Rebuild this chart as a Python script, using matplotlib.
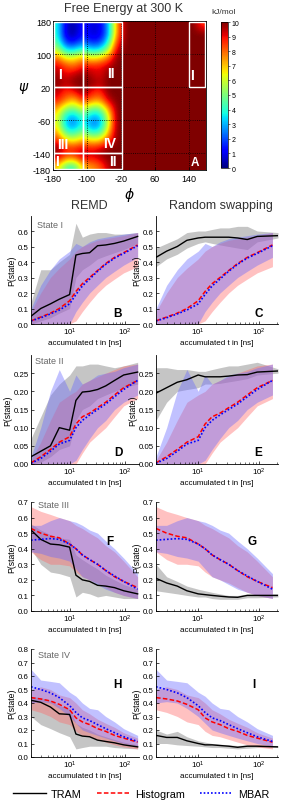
import numpy as np
import matplotlib
matplotlib.use("Agg")
import matplotlib.pyplot as plt
from matplotlib.patches import Rectangle
from matplotlib.lines import Line2D
from matplotlib.ticker import FixedLocator, FormatStrFormatter, LogLocator, NullFormatter

plt.rcParams['font.family'] = ['Liberation Sans', 'DejaVu Sans']
plt.rcParams['mathtext.fontset'] = 'dejavusans'
plt.rcParams['axes.unicode_minus'] = False

##########################################################################################
## data ########
##########################################################################################
# free energy [kJ/mol] on 20 deg bins, rows psi 170 -> -170, cols phi -170 -> -10
fe_left = [
    [4.0, 0.8, 0.3, 1.6, 0.8, 0.9, 2.8, 7.5, 10],
    [4.0, 0.6, 0.2, 1.5, 0.7, 0.8, 2.6, 7.5, 10],
    [4.5, 1.5, 1.2, 2.3, 1.5, 1.6, 3.6, 8.5, 10],
    [6.0, 3.5, 3.4, 4.5, 3.5, 3.6, 5.5, 9.5, 10],
    [8.0, 6.5, 6.5, 7.5, 6.5, 7.0, 8.0, 10, 10],
    [9.3, 8.5, 8.0, 9.0, 9.0, 9.0, 9.5, 10, 10],
    [9.7, 9.0, 9.5, 10, 9.5, 9.0, 10, 10, 10],
    [10, 9.5, 10, 10, 10, 9.5, 10, 10, 10],
    [9.5, 8.5, 9.0, 10, 9.0, 8.5, 10, 10, 10],
    [9.0, 8.0, 7.0, 9.0, 8.0, 7.5, 9.5, 10, 10],
    [7.5, 5.5, 5.0, 6.5, 5.0, 5.0, 7.5, 10, 10],
    [6.5, 3.5, 2.8, 4.5, 3.0, 3.0, 6.0, 10, 10],
    [6.5, 3.0, 2.4, 4.0, 2.4, 2.6, 6.0, 10, 10],
    [7.5, 4.5, 4.0, 5.5, 4.0, 4.2, 7.0, 10, 10],
    [9.0, 7.0, 6.5, 7.5, 7.0, 7.0, 8.5, 10, 10],
    [10, 9.0, 9.0, 9.5, 9.0, 9.5, 10, 10, 10],
    [9.5, 8.0, 8.0, 9.5, 9.0, 9.5, 10, 10, 10],
    [7.0, 4.5, 4.0, 7.0, 7.5, 8.0, 9.5, 10, 10],
]
fe_cap = 10.0
fe_spot = 8.5          # small spot at phi 170, psi 170

phi_ticks = [-180, -100, -20, 60, 140]
psi_ticks = [180, 100, 20, -60, -140, -180]
cbar_ticks = [0, 1, 2, 3, 4, 5, 6, 7, 8, 9, 10]

# state boxes (phi0, psi0, phi1, psi1)
boxes = [(-177, 21, -110, 178), (-110, 21, -18, 178), (-177, -140, -110, 21),
         (-110, -140, -18, 21), (-177, -178, -110, -140), (-110, -178, -18, -140),
         (139, 21, 178, 178)]
box_labels = ['I', 'II', 'I', 'III', 'IV', 'I', 'II']
box_label_pos = [(-163, 52), (-43, 54), (147, 50), (-157, -117), (-46, -115), (-171, -158), (-40, -158)]

# accumulated simulation time [ns]
t_est = [2, 3, 4.5, 6.5, 10, 13, 17, 23, 32, 45, 65, 95, 170]
t_tram_remd = [2, 3, 4.5, 6.5, 10, 13, 17, 23, 32, 45, 65, 95, 170]
t_tram_rs = [2, 3, 4.5, 6.5, 10, 13, 17, 23, 32, 45, 65, 95, 210]

# state I
hist_I = [0.02, 0.045, 0.07, 0.10, 0.15, 0.21, 0.26, 0.30, 0.345, 0.39, 0.43, 0.46, 0.51]
hist_I_lo = [0, 0, 0, 0, 0, 0.02, 0.08, 0.14, 0.20, 0.25, 0.29, 0.33, 0.37]
hist_I_hi = [0.08, 0.20, 0.30, 0.36, 0.42, 0.47, 0.50, 0.52, 0.54, 0.55, 0.56, 0.57, 0.59]
mbar_I = [0.02, 0.04, 0.065, 0.09, 0.13, 0.19, 0.245, 0.29, 0.34, 0.385, 0.425, 0.455, 0.505]
mbar_I_lo = [0, 0, 0, 0, 0, 0.08, 0.14, 0.20, 0.25, 0.30, 0.34, 0.38, 0.43]
mbar_I_hi = [0.10, 0.25, 0.35, 0.42, 0.47, 0.52, 0.50, 0.53, 0.55, 0.56, 0.57, 0.58, 0.59]
tram_remd_I = [0.05, 0.10, 0.13, 0.16, 0.19, 0.445, 0.455, 0.46, 0.505, 0.51, 0.52, 0.535, 0.565]
tram_remd_I_lo = [0.0, 0.02, 0.04, 0.07, 0.10, 0.30, 0.35, 0.38, 0.42, 0.44, 0.46, 0.48, 0.52]
tram_remd_I_hi = [0.14, 0.35, 0.35, 0.40, 0.45, 0.65, 0.56, 0.58, 0.59, 0.59, 0.58, 0.58, 0.59]
tram_rs_I = [0.43, 0.47, 0.50, 0.54, 0.555, 0.56, 0.56, 0.56, 0.56, 0.555, 0.545, 0.565, 0.57]
tram_rs_I_lo = [0.37, 0.42, 0.45, 0.49, 0.52, 0.53, 0.52, 0.51, 0.50, 0.49, 0.48, 0.53, 0.555]
tram_rs_I_hi = [0.49, 0.52, 0.55, 0.59, 0.60, 0.60, 0.61, 0.62, 0.62, 0.63, 0.63, 0.60, 0.59]

# state II
hist_II = [0.003, 0.02, 0.04, 0.06, 0.075, 0.11, 0.13, 0.14, 0.155, 0.17, 0.19, 0.21, 0.23]
hist_II_lo = [0, 0, 0, 0, 0, 0, 0.03, 0.06, 0.08, 0.10, 0.13, 0.16, 0.18]
hist_II_hi = [0.01, 0.06, 0.12, 0.17, 0.19, 0.20, 0.22, 0.23, 0.24, 0.25, 0.26, 0.27, 0.275]
mbar_II = [0.002, 0.015, 0.035, 0.055, 0.065, 0.10, 0.12, 0.135, 0.15, 0.165, 0.185, 0.205, 0.23]
mbar_II_lo = [0, 0, 0, 0, 0, 0.01, 0.04, 0.07, 0.10, 0.12, 0.15, 0.17, 0.19]
mbar_II_hi = [0.02, 0.10, 0.20, 0.26, 0.20, 0.245, 0.22, 0.23, 0.245, 0.25, 0.255, 0.265, 0.275]
tram_remd_II = [0.02, 0.035, 0.05, 0.10, 0.093, 0.175, 0.198, 0.20, 0.205, 0.215, 0.23, 0.245, 0.253]
tram_remd_II_lo = [0.0, 0.005, 0.02, 0.04, 0.05, 0.12, 0.15, 0.16, 0.18, 0.19, 0.20, 0.21, 0.22]
tram_remd_II_hi = [0.07, 0.13, 0.19, 0.22, 0.245, 0.27, 0.27, 0.275, 0.275, 0.27, 0.265, 0.27, 0.28]
tram_rs_II = [0.195, 0.21, 0.225, 0.232, 0.245, 0.24, 0.24, 0.24, 0.242, 0.245, 0.246, 0.253, 0.256]
tram_rs_II_lo = [0.12, 0.17, 0.20, 0.205, 0.21, 0.22, 0.22, 0.222, 0.226, 0.23, 0.235, 0.245, 0.25]
tram_rs_II_hi = [0.265, 0.265, 0.26, 0.26, 0.255, 0.255, 0.26, 0.265, 0.27, 0.27, 0.275, 0.28, 0.262]

# state III
hist_III = [0.53, 0.50, 0.48, 0.47, 0.43, 0.40, 0.36, 0.33, 0.30, 0.26, 0.22, 0.19, 0.15]
hist_III_lo = [0.38, 0.33, 0.30, 0.30, 0.29, 0.25, 0.22, 0.20, 0.18, 0.15, 0.12, 0.10, 0.08]
hist_III_hi = [0.67, 0.64, 0.62, 0.60, 0.58, 0.55, 0.53, 0.50, 0.47, 0.42, 0.38, 0.32, 0.22]
mbar_III = [0.455, 0.46, 0.465, 0.46, 0.43, 0.40, 0.36, 0.33, 0.30, 0.26, 0.225, 0.19, 0.14]
mbar_III_lo = [0.38, 0.37, 0.35, 0.34, 0.32, 0.27, 0.22, 0.20, 0.17, 0.14, 0.12, 0.10, 0.08]
mbar_III_hi = [0.55, 0.55, 0.58, 0.60, 0.58, 0.57, 0.55, 0.52, 0.50, 0.45, 0.40, 0.34, 0.24]
tram_remd_III = [0.52, 0.46, 0.43, 0.425, 0.41, 0.23, 0.20, 0.19, 0.165, 0.16, 0.15, 0.13, 0.11]
tram_remd_III_lo = [0.40, 0.30, 0.25, 0.24, 0.22, 0.09, 0.12, 0.11, 0.09, 0.10, 0.09, 0.08, 0.08]
tram_remd_III_hi = [0.56, 0.52, 0.49, 0.47, 0.46, 0.36, 0.33, 0.30, 0.27, 0.23, 0.20, 0.17, 0.14]
tram_rs_III = [0.21, 0.18, 0.16, 0.13, 0.11, 0.105, 0.10, 0.095, 0.09, 0.088, 0.10, 0.10, 0.10]
tram_rs_III_lo = [0.13, 0.12, 0.11, 0.10, 0.09, 0.09, 0.08, 0.075, 0.075, 0.075, 0.085, 0.085, 0.09]
tram_rs_III_hi = [0.30, 0.22, 0.19, 0.16, 0.14, 0.13, 0.12, 0.11, 0.10, 0.10, 0.11, 0.11, 0.11]

# state IV
hist_IV = [0.44, 0.43, 0.415, 0.39, 0.35, 0.29, 0.26, 0.24, 0.21, 0.19, 0.16, 0.14, 0.11]
hist_IV_lo = [0.35, 0.33, 0.30, 0.26, 0.24, 0.19, 0.16, 0.15, 0.13, 0.11, 0.09, 0.075, 0.06]
hist_IV_hi = [0.50, 0.52, 0.50, 0.46, 0.44, 0.40, 0.35, 0.32, 0.28, 0.25, 0.22, 0.18, 0.14]
mbar_IV = [0.52, 0.50, 0.475, 0.44, 0.38, 0.33, 0.29, 0.27, 0.24, 0.21, 0.18, 0.15, 0.115]
mbar_IV_lo = [0.40, 0.41, 0.40, 0.36, 0.30, 0.25, 0.20, 0.18, 0.16, 0.14, 0.12, 0.10, 0.08]
mbar_IV_hi = [0.65, 0.57, 0.56, 0.55, 0.48, 0.45, 0.40, 0.36, 0.35, 0.30, 0.26, 0.21, 0.16]
tram_remd_IV = [0.42, 0.405, 0.37, 0.32, 0.315, 0.17, 0.155, 0.15, 0.125, 0.115, 0.105, 0.09, 0.075]
tram_remd_IV_lo = [0.30, 0.24, 0.21, 0.18, 0.15, 0.06, 0.07, 0.08, 0.08, 0.08, 0.07, 0.065, 0.06]
tram_remd_IV_hi = [0.45, 0.44, 0.42, 0.38, 0.36, 0.25, 0.22, 0.20, 0.17, 0.15, 0.13, 0.11, 0.09]
tram_rs_IV = [0.16, 0.145, 0.145, 0.12, 0.10, 0.09, 0.09, 0.085, 0.08, 0.072, 0.08, 0.08, 0.075]
tram_rs_IV_lo = [0.10, 0.10, 0.09, 0.085, 0.08, 0.075, 0.07, 0.07, 0.065, 0.06, 0.065, 0.07, 0.07]
tram_rs_IV_hi = [0.20, 0.17, 0.19, 0.15, 0.12, 0.11, 0.10, 0.095, 0.09, 0.085, 0.09, 0.09, 0.085]

state_names = ['State I', 'State II', 'State III', 'State IV']
panel_letters = [['B', 'C'], ['D', 'E'], ['F', 'G'], ['H', 'I']]

##########################################################################################
W, H = 282, 804
fig = plt.figure(figsize=(W / 100, H / 100), dpi=100)


def px_axes(x0, y0, x1, y1):
    return fig.add_axes([x0 / W, 1 - y1 / H, (x1 - x0) / W, (y1 - y0) / H])


def px(x, y):
    return x / W, 1 - y / H


##########################################################################################
## free energy map ########
##########################################################################################
fe = np.full((18, 18), fe_cap)
fe[:, :9] = np.array(fe_left)
fe[0, 17] = fe_spot

axA = px_axes(53, 22, 206, 171)
im = axA.imshow(fe, extent=[-180, 180, -180, 180], origin='upper', cmap='jet',
                vmin=0, vmax=10, interpolation='bicubic', aspect='auto')
axA.set_xlim(-180, 180)
axA.set_ylim(-180, 180)
axA.set_xticks(phi_ticks)
axA.set_yticks(psi_ticks)
axA.tick_params(labelsize=6.5, length=2, width=0.5, direction='in', pad=1.5)
axA.tick_params(axis='x', pad=3)
axA.grid(True, color='k', ls=':', lw=0.6)
for s in axA.spines.values():
    s.set_linewidth(0.6)
for (p0, q0, p1, q1) in boxes:
    axA.add_patch(Rectangle((p0, q0), p1 - p0, q1 - q0, fill=False, ec='white', lw=1.0, zorder=3))
for lab, (p, q) in zip(box_labels, box_label_pos):
    axA.text(p, q, lab, color='white', fontsize=10, fontweight='bold', ha='center', va='center', zorder=4)
axA.text(154, -160, 'A', color='white', fontsize=8.5, fontweight='bold', ha='center', va='center', zorder=4)
axA.set_xlabel(r'$\phi$', fontsize=10, labelpad=1)
axA.set_ylabel(r'$\psi$', fontsize=10, labelpad=0, rotation=0)
axA.yaxis.set_label_coords(-0.19, 0.5)
fig.text(*px(123, 9), 'Free Energy at 300 K', fontsize=9, color='#333333', ha='center', va='center')

cax = px_axes(221, 23, 228, 169)
cb = fig.colorbar(im, cax=cax, ticks=cbar_ticks)
cb.ax.tick_params(labelsize=5, length=1.5, width=0.4, pad=1)
cb.outline.set_linewidth(0.5)
fig.text(*px(224, 12), 'kJ/mol', fontsize=6, color='#333333', ha='center', va='center')

##########################################################################################
## state probabilities ########
##########################################################################################
rows = [
    dict(top=216.5, bot=325, ylim=(0, 0.7), yticks=[0, .1, .2, .3, .4, .5, .6], fmt='%.1f'),
    dict(top=356, bot=465, ylim=(0, 0.3), yticks=[0, .05, .1, .15, .2, .25], fmt='%.2f'),
    dict(top=503, bot=612, ylim=(0, 0.7), yticks=[0, .1, .2, .3, .4, .5, .6, .7], fmt='%.1f'),
    dict(top=650, bot=758, ylim=(0, 0.8), yticks=[0, .1, .2, .3, .4, .5, .6, .7, .8], fmt='%.1f'),
]
cols = [dict(x0=31, x1=139, xlim=(2, 180)), dict(x0=156, x1=278, xlim=(2, 210))]

est_data = [(hist_I, hist_I_lo, hist_I_hi, mbar_I, mbar_I_lo, mbar_I_hi),
            (hist_II, hist_II_lo, hist_II_hi, mbar_II, mbar_II_lo, mbar_II_hi),
            (hist_III, hist_III_lo, hist_III_hi, mbar_III, mbar_III_lo, mbar_III_hi),
            (hist_IV, hist_IV_lo, hist_IV_hi, mbar_IV, mbar_IV_lo, mbar_IV_hi)]
tram_data = [[(t_tram_remd, tram_remd_I, tram_remd_I_lo, tram_remd_I_hi),
              (t_tram_rs, tram_rs_I, tram_rs_I_lo, tram_rs_I_hi)],
             [(t_tram_remd, tram_remd_II, tram_remd_II_lo, tram_remd_II_hi),
              (t_tram_rs, tram_rs_II, tram_rs_II_lo, tram_rs_II_hi)],
             [(t_tram_remd, tram_remd_III, tram_remd_III_lo, tram_remd_III_hi),
              (t_tram_rs, tram_rs_III, tram_rs_III_lo, tram_rs_III_hi)],
             [(t_tram_remd, tram_remd_IV, tram_remd_IV_lo, tram_remd_IV_hi),
              (t_tram_rs, tram_rs_IV, tram_rs_IV_lo, tram_rs_IV_hi)]]

letter_pos = [[(118, 314), (259, 314)], [(118, 453), (258, 453)],
              [(110, 542), (252, 542)], [(117, 685), (254, 685)]]
state_pos = [(37, 225), (35, 362), (38, 505), (38, 655)]

for i, r in enumerate(rows):
    hist, hist_lo, hist_hi, mbar, mbar_lo, mbar_hi = est_data[i]
    for j, c in enumerate(cols):
        ax = px_axes(c['x0'], r['top'], c['x1'], r['bot'])
        tt, tram, tram_lo, tram_hi = tram_data[i][j]
        ax.fill_between(tt, tram_lo, tram_hi, color='#808080', alpha=0.45, lw=0)
        ax.fill_between(t_est, hist_lo, hist_hi, color='#ff6666', alpha=0.4, lw=0)
        ax.fill_between(t_est, mbar_lo, mbar_hi, color='#6666ff', alpha=0.4, lw=0)
        ax.plot(tt, tram, color='k', lw=1.0)
        ax.plot(t_est, hist, color='red', ls=(0, (3, 1.5)), lw=1.1)
        ax.plot(t_est, mbar, color='blue', ls=(0, (1, 1.2)), lw=1.2)

        ax.set_xscale('log')
        ax.set_xlim(*c['xlim'])
        ax.set_ylim(*r['ylim'])
        ax.xaxis.set_major_locator(FixedLocator([10, 100]))
        ax.xaxis.set_minor_locator(LogLocator(base=10, subs=np.arange(2, 10)))
        ax.xaxis.set_minor_formatter(NullFormatter())
        ax.set_yticks(r['yticks'])
        ax.yaxis.set_major_formatter(FormatStrFormatter(r['fmt']))
        ax.tick_params(labelsize=5.7, length=2, width=0.5, direction='in', pad=1.5)
        ax.tick_params(which='minor', length=1.2, width=0.4, direction='in')
        for s in ['top', 'right']:
            ax.spines[s].set_visible(False)
        for s in ['left', 'bottom']:
            ax.spines[s].set_linewidth(0.6)
        ax.set_ylabel('P(state)', fontsize=6.2, labelpad=1)
        ax.set_xlabel('accumulated t in [ns]', fontsize=5.8, labelpad=1)
        fig.text(*px(*letter_pos[i][j]), panel_letters[i][j], fontsize=8.5, fontweight='bold',
                 ha='center', va='center')
    fig.text(*px(*state_pos[i]), state_names[i], fontsize=6.5, color='#666666', ha='left', va='center')

fig.text(*px(89, 206), 'REMD', fontsize=9, color='#333333', ha='center', va='center')
fig.text(*px(221, 206), 'Random swapping', fontsize=9, color='#333333', ha='center', va='center')

handles = [Line2D([], [], color='k', lw=1.0),
           Line2D([], [], color='red', ls=(0, (3, 1.5)), lw=1.1),
           Line2D([], [], color='blue', ls=(0, (1, 1.2)), lw=1.2)]
fig.legend(handles, ['TRAM', 'Histogram', 'MBAR'], loc='center', bbox_to_anchor=px(141, 795),
           ncol=3, frameon=False, fontsize=7.8, handlelength=3.0, handletextpad=0.5, columnspacing=1.4)

fig.savefig('out.png', dpi=100)
